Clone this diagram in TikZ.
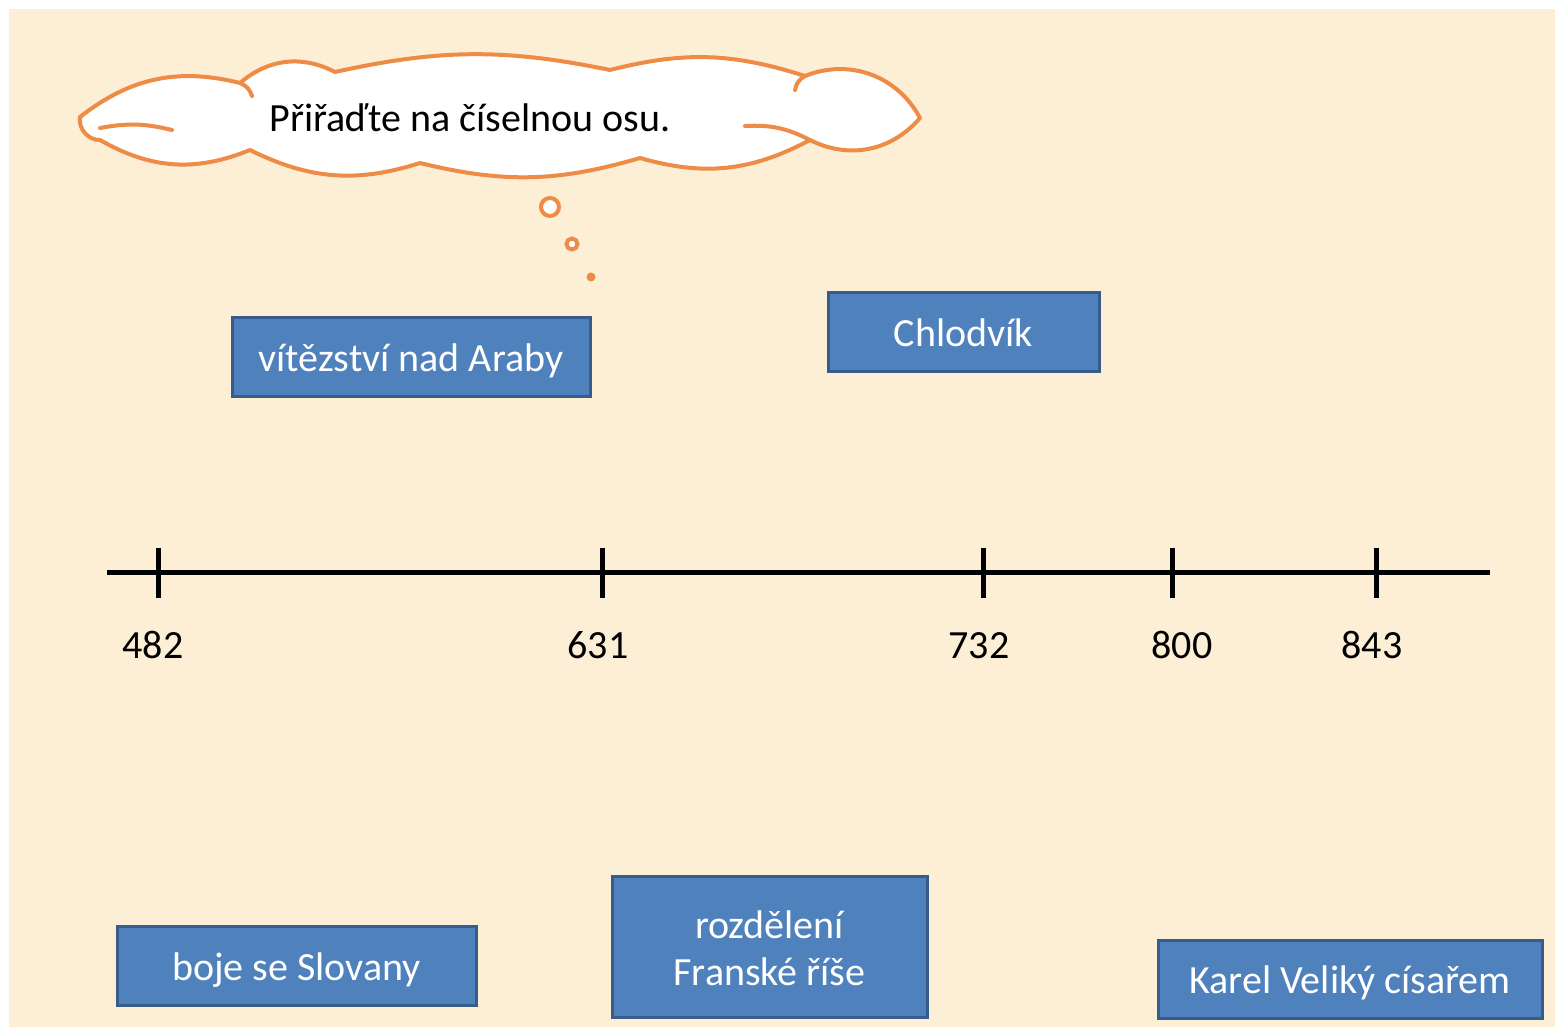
\documentclass[tikz,border=0pt]{standalone}
\usepackage{fontspec}
\setmainfont{Carlito}
\definecolor{bgc}{HTML}{FCEFD6}
\definecolor{boxfill}{HTML}{4F81BD}
\definecolor{boxline}{HTML}{385D8A}
\definecolor{cloudline}{HTML}{EE8B45}
\begin{document}
\begin{tikzpicture}[x=0.5pt,y=0.5pt,
  txt/.style={font=\fontsize{20pt}{23.5pt}\selectfont},
  box/.style={txt, draw=boxline, line width=1.5pt, fill=boxfill, text=white, inner sep=0pt, align=center},
  oneline/.style={text height=14.5pt, text depth=0pt},
  axisline/.style={line width=2.5pt, black},
  ticklbl/.style={txt, text=black, inner sep=0pt},
  cloudst/.style={draw=cloudline, line width=2pt, fill=white, line join=round},
  cloudin/.style={draw=cloudline, line width=2pt, line cap=round},
  bubble/.style={draw=cloudline, line width=2pt, fill=white, circle, inner sep=0pt}]
\fill[white] (0,0) rectangle (1555,-1027);
\fill[bgc] (9,-9) rectangle (1555,-1027);
\useasboundingbox (0,0) rectangle (1555,-1027);

% thought cloud
\draw[cloudst] (80,-117) to[bend left=26] (240,-83) to[bend left=34] (335,-72)
  to[bend left=12] (610,-70) to[bend left=16] (805,-76) to[bend left=42] (920,-118)
  to[bend left=38] (810,-140) to[bend left=22] (640,-158) to[bend left=15] (420,-163)
  to[bend left=22] (250,-150) to[bend left=26] (100,-140) to[bend left=50] (80,-117) -- cycle;
\draw[cloudin] (100,-128) to[bend left=12] (172,-130);
\draw[cloudin] (745,-126) to[bend left=15] (810,-140);
\draw[cloudin] (240,-83) to[bend left=25] (252,-96);
\draw[cloudin] (805,-76) to[bend right=25] (795,-90);
\node[ticklbl] (prompt) at (470,-118) {Přiřaďte na číselnou osu.};
\node[bubble, minimum size=9pt] (b1) at (550,-207) {};
\node[bubble, minimum size=5.5pt] (b2) at (572,-244) {};
\node[fill=cloudline, circle, minimum size=4.5pt, inner sep=0pt] (b3) at (591,-277) {};

% boxes
\node[box, oneline, minimum width=179pt, minimum height=39.5pt] (araby) at (411,-357.5) {vítězství nad Araby};
\node[box, oneline, minimum width=135.5pt, minimum height=39.5pt] (chlod) at (963.5,-332.5) {Chlodvík};
\node[box, oneline, minimum width=179.5pt, minimum height=39.5pt] (slov) at (296.5,-965.5) {boje se Slovany};
\node[box, text height=39pt, text depth=0pt, minimum width=157.5pt, minimum height=70.5pt] (rozd) at (769.5,-946.5) {rozdělení\\Franské říše};
\node[box, oneline, minimum width=192pt, minimum height=39pt] (karel) at (1350,-979) {Karel Veliký císařem};

% number line
\coordinate (axL) at (107,-573);
\coordinate (axR) at (1490,-573);
\draw[axisline] (axL) -- (axR);
\foreach \nm/\x/\lx/\lab in {t482/158/153/482, t631/602/598/631, t732/983/979/732, t800/1172/1182/800, t843/1376/1372/843}{
  \coordinate (\nm top) at (\x,-548);
  \coordinate (\nm bot) at (\x,-598);
  \draw[axisline] (\nm top) -- (\nm bot);
  \node[ticklbl, text height=13pt, text depth=0pt] (\nm lbl) at (\lx,-645) {\lab};
}
\end{tikzpicture}
\end{document}
